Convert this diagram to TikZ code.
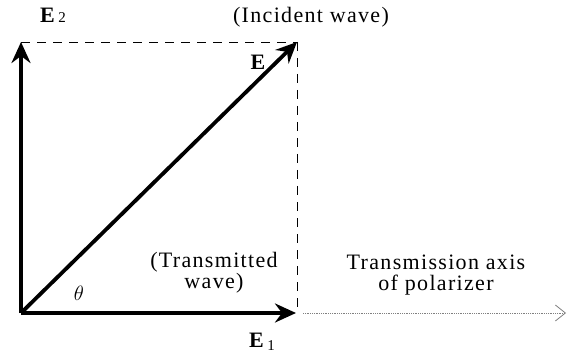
\documentclass[tikz,border=0pt]{standalone}
\usepackage{fontspec}
\setmainfont{Liberation Serif}
\newfontfamily\lsfont[LetterSpace=6]{Liberation Serif}
\usetikzlibrary{arrows.meta}
\begin{document}
\begin{tikzpicture}[x=1pt,y=-1pt,
  vec/.style={line width=3.8pt,-{Stealth[length=21pt,width=19pt,inset=7pt]}},
  guide/.style={line width=0.8pt,dash pattern=on 9pt off 7pt},
  axisline/.style={line width=0.8pt,gray,densely dotted,-{Straight Barb[length=10pt,width=16pt,line width=0.8pt]}},
  lbl/.style={inner sep=0pt,font=\fontsize{22}{21}\selectfont\lsfont},
  vlbl/.style={inner sep=0pt,font=\fontsize{22}{24}\selectfont}]
\useasboundingbox (0,0) rectangle (567,358);
\coordinate (O) at (21,313);
\coordinate (T2) at (21,42);
\coordinate (T1) at (296,313);
\coordinate (TE) at (297,42);
\coordinate (C) at (297,42);
\coordinate (Cb) at (297,310);
\coordinate (A0) at (303,313);
\coordinate (A1) at (566,313);
\draw[guide] (T2) -- (C);
\draw[guide] (C) -- (Cb);
\draw[axisline] (A0) -- (A1);
\draw[vec] (O) -- (T2);
\draw[vec] (O) -- (T1);
\draw[vec] (O) -- (TE);
\node[vlbl] (lE2) at (53,15) {\textbf{E}\,{\fontsize{15}{15}\selectfont 2}};
\node[vlbl] (lE) at (258,62) {\textbf{E}};
\node[vlbl] (lE1) at (262,342) {\textbf{E}\,{\fontsize{15}{15}\selectfont\raisebox{-3pt}{1}}};
\node[vlbl] (lth) at (79,293) {$\theta$};
\node[lbl] (linc) at (311,17) {(Incident wave)};
\node[lbl,align=center] (ltr) at (214,273) {(Transmitted\\wave)};
\node[lbl,align=center] (lax) at (436,275) {Transmission axis\\of polarizer};
\end{tikzpicture}
\end{document}
